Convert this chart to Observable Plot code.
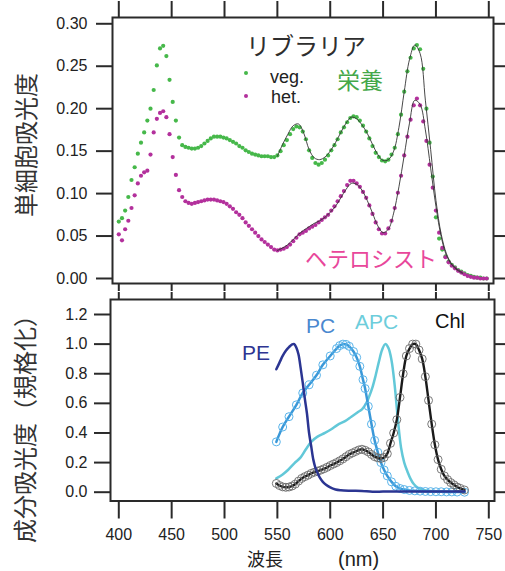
<!DOCTYPE html>
<html><head><meta charset="utf-8">
<script src="https://cdn.jsdelivr.net/npm/d3@7"></script>
<script src="https://cdn.jsdelivr.net/npm/@observablehq/plot@0.6"></script>
<style>
body{margin:0;background:#fff;}
#wrap{position:relative;width:505px;height:571px;overflow:hidden;font-family:"Liberation Sans",Arial,sans-serif;}
#top,#bot{position:absolute;left:0;}
#top{top:0}
#bot{top:291px}
#ann{position:absolute;left:0;top:0;pointer-events:none}
</style></head><body>
<div id="wrap"><div id="top"></div><div id="bot"></div><svg id="ann" width="505" height="571"></svg></div>
<script>
// ---------- data: top panel (single-cell absorbance) ----------
const topNm = [400,403,406,409,412,415,418,421,424,427,
430,433,436,439,442,445,448,451,454,457,
460,463,466,469,472,475,478,481,484,487,
490,493,496,499,502,505,508,511,514,517,
520,523,526,529,532,535,538,541,544,547,
550,553,556,559,562,565,568,571,574,577,
580,583,586,589,592,595,598,601,604,607,
610,613,616,619,622,625,628,631,634,637,
640,643,646,649,652,655,658,661,664,667,
670,673,676,679,682,685,688,691,694,697,
700,703,706,709,712,715,718,721,724,727,
730,733,736,739,742,745,748];
const vegVals = [.067,.071,.080,.096,.116,.131,.147,.160,.172,.186,
.200,.222,.251,.271,.274,.262,.234,.208,.186,.166,
.157,.155,.154,.153,.153,.154,.156,.159,.162,.165,
.167,.167,.167,.166,.165,.163,.161,.159,.156,.154,
.151,.149,.147,.146,.145,.144,.144,.144,.143,.143,
.145,.150,.157,.163,.170,.176,.179,.178,.173,.164,
.151,.142,.136,.134,.136,.140,.145,.151,.157,.164,
.172,.178,.184,.189,.191,.190,.186,.180,.173,.165,
.156,.148,.143,.139,.138,.140,.146,.154,.170,.193,
.220,.244,.260,.271,.275,.270,.247,.200,.160,.120,
.072,.047,.034,.026,.020,.016,.013,.010,.008,.006,
.004,.003,.002,.001,.001,.000,.000];
const hetVals = [.052,.045,.058,.068,.083,.098,.112,.121,.125,.127,
.146,.172,.188,.195,.197,.190,.170,.143,.122,.104,
.096,.091,.089,.088,.089,.090,.091,.092,.093,.093,
.093,.092,.091,.090,.088,.085,.082,.078,.075,.071,
.066,.062,.058,.054,.050,.046,.043,.040,.037,.034,
.033,.034,.035,.037,.040,.044,.048,.052,.054,.056,
.059,.061,.063,.066,.069,.072,.075,.080,.085,.091,
.097,.103,.110,.115,.115,.112,.108,.102,.095,.086,
.076,.066,.058,.053,.053,.059,.068,.083,.101,.121,
.145,.167,.187,.204,.212,.204,.185,.162,.134,.107,
.080,.054,.036,.025,.019,.015,.012,.009,.007,.005,
.003,.002,.001,.001,.000,.000,.000];
// library fits (thin lines)
const fitNm = [550,555,560,565,570,575,580,585,590,595,600,605,610,615,620,625,630,635,640,645,650,655,660,665,670,675,680,685,690,695,700,705,710,715,720,725];
const vegFitVals = [.144,.158,.170,.180,.182,.171,.152,.142,.140,.143,.150,.160,.172,.183,.190,.188,.181,.171,.158,.146,.139,.140,.150,.178,.220,.258,.275,.265,.210,.152,.092,.052,.029,.017,.011,.007];
const hetFitVals = [.033,.036,.040,.046,.052,.057,.061,.065,.068,.072,.078,.085,.095,.105,.112,.111,.104,.092,.077,.062,.054,.058,.077,.108,.145,.183,.210,.205,.175,.130,.085,.049,.027,.016,.010,.006];

// ---------- data: bottom panel (normalized component absorbance) ----------
const peNm  = [549,552,555,558,561,564,566,568,570,572,574,576,578,580,582,584,586,588,590,593,596,600,605,610,620,630,640,650,660,670,680,690,700,710,720,727];
const peVals= [.83,.875,.92,.955,.98,.998,1.0,.975,.93,.84,.74,.63,.53,.40,.31,.22,.165,.13,.10,.07,.05,.032,.018,.013,.010,.008,.003,.004,.004,.004,.004,.004,.004,.004,.004,.004];
const pcNm  = [549,555,561,568,574,580,587,593,600,606,609,612,615,618,622,625,628,631,633,636,639,642,645,648,651,654,658,662,666,670,675,680,685,690,695,700,705,710,715,720,727];
const pcVals= [.34,.44,.51,.59,.67,.725,.79,.86,.92,.97,.99,1.0,.998,.985,.95,.91,.85,.76,.70,.58,.46,.35,.27,.20,.15,.11,.07,.04,.025,.018,.012,.009,.007,.005,.004,.003,.003,.002,.002,.001,.0];
const apcNm = [549,555,560,566,572,577,582,588,595,601,607,614,620,626,630,634,637,640,643,646,649,652,655,658,661,664,667,670,673,676,679,683,687,692,700,710,720,727];
const apcVals=[.093,.12,.15,.195,.235,.29,.34,.375,.40,.425,.455,.48,.51,.54,.56,.60,.65,.71,.79,.88,.96,1.0,.975,.89,.72,.49,.30,.20,.14,.09,.055,.03,.018,.01,.006,.004,.003,.002];
const chlNm = [549,552,555,558,561,564,567,570,573,576,579,582,585,588,591,594,597,600,603,606,609,612,615,618,621,624,627,630,633,636,639,642,645,648,651,654,657,660,663,666,669,672,675,678,681,684,687,690,693,696,699,702,705,708,711,714,717,720,723,727];
const chlVals=[.059,.045,.036,.033,.035,.042,.055,.075,.093,.105,.115,.127,.135,.142,.149,.158,.168,.18,.19,.20,.212,.225,.24,.255,.265,.275,.285,.29,.283,.272,.255,.24,.232,.228,.235,.26,.33,.40,.49,.64,.80,.92,.97,1.0,1.0,.96,.90,.78,.62,.46,.32,.22,.155,.11,.085,.065,.05,.035,.026,.015];

// ---------- tick labels ----------
const xTicks = [400,450,500,550,600,650,700,750];
const topYTicks = [0,0.05,0.10,0.15,0.20,0.25,0.30];
const botYTicks = [0,0.2,0.4,0.6,0.8,1.0,1.2];

const GREEN = "#46b84a", MAGENTA = "#b3309c";
const zip = (xs, ys) => xs.map((x, i) => ({nm: x, v: ys[i]}));
const veg = zip(topNm, vegVals), het = zip(topNm, hetVals);
const vegFit = zip(fitNm, vegFitVals), hetFit = zip(fitNm, hetFitVals);
const pe = zip(peNm, peVals), pc = zip(pcNm, pcVals), apc = zip(apcNm, apcVals), chl = zip(chlNm, chlVals);

const FRAME = "#2a2a2a";
const baseStyle = {fontFamily: "'Liberation Sans', Arial, sans-serif", fontSize: "16px", color: "#222", background: "transparent", overflow: "visible"};
const blank = () => "";

const topPlot = Plot.plot({
  width: 505, height: 291,
  marginLeft: 112, marginRight: 12, marginTop: 17, marginBottom: 8,
  x: {domain: [394.04, 754.45]},
  y: {domain: [-0.0059, 0.3074]},
  style: baseStyle,
  marks: [
    Plot.dot(veg, {x: "nm", y: "v", r: 2.1, fill: GREEN}),
    Plot.dot(het, {x: "nm", y: "v", r: 2.1, fill: MAGENTA}),
    Plot.line(vegFit, {x: "nm", y: "v", stroke: "#333", strokeWidth: 0.9, curve: "catmull-rom"}),
    Plot.line(hetFit, {x: "nm", y: "v", stroke: "#333", strokeWidth: 0.9, curve: "catmull-rom"}),
    Plot.frame({stroke: FRAME, strokeWidth: 2}),
    Plot.axisY(topYTicks, {anchor: "left", tickSize: 16, tickPadding: 9, tickFormat: d3.format(".2f"), strokeWidth: 2, stroke: FRAME, label: null}),
    Plot.axisY(topYTicks, {anchor: "right", tickSize: 12, tickFormat: blank, strokeWidth: 2, stroke: FRAME, label: null}),
    Plot.axisX(xTicks, {anchor: "top", tickSize: 17, tickFormat: blank, strokeWidth: 2, stroke: FRAME, label: null}),
    Plot.axisX(xTicks, {anchor: "bottom", tickSize: 8, tickFormat: blank, strokeWidth: 2, stroke: FRAME, label: null})
  ]
});
document.getElementById("top").append(topPlot);

const botPlot = Plot.plot({
  width: 505, height: 280,
  marginLeft: 110, marginRight: 11, marginTop: 8, marginBottom: 70.5,
  x: {domain: [392.15, 755.39]},
  y: {domain: [-0.0594, 1.3013]},
  style: baseStyle,
  marks: [
    Plot.line(apc, {x: "nm", y: "v", stroke: "#62c8d8", strokeWidth: 2.5, curve: "catmull-rom"}),
    Plot.line(pc, {x: "nm", y: "v", stroke: "#3a98d8", strokeWidth: 2.5, curve: "catmull-rom"}),
    Plot.dot(pc, {x: "nm", y: "v", r: 4, stroke: "#5ab4ea", strokeWidth: 1, fill: "none"}),
    Plot.line(chl, {x: "nm", y: "v", stroke: "#1a1a1a", strokeWidth: 2.4, curve: "catmull-rom"}),
    Plot.dot(chl, {x: "nm", y: "v", r: 4, stroke: "#6a6a6a", strokeWidth: 0.9, fill: "none"}),
    Plot.line(pe, {x: "nm", y: "v", stroke: "#2b3592", strokeWidth: 2.5, curve: "catmull-rom"}),
    Plot.frame({stroke: FRAME, strokeWidth: 2}),
    Plot.axisY(botYTicks, {anchor: "left", tickSize: 16, tickPadding: 7, tickFormat: d3.format(".1f"), strokeWidth: 2, stroke: FRAME, label: null}),
    Plot.axisY(botYTicks, {anchor: "right", tickSize: 11, tickFormat: blank, strokeWidth: 2, stroke: FRAME, label: null}),
    Plot.axisX(xTicks, {anchor: "top", tickSize: 8, tickFormat: blank, strokeWidth: 2, stroke: FRAME, label: null}),
    Plot.axisX(xTicks, {anchor: "bottom", tickSize: 18, tickPadding: 10, tickFormat: d3.format("d"), strokeWidth: 2, stroke: FRAME, label: null})
  ]
});
document.getElementById("bot").append(botPlot);

// ---------- annotations ----------
const JP = "'Noto Sans CJK JP', 'Noto Sans CJK SC', sans-serif";
const LAT = "'Liberation Sans', Arial, sans-serif";
const ann = d3.select("#ann");
const labels = [
  {t: "リブラリア", x: 246, y: 55, s: 24, c: "#2e2e2e", f: JP},
  {t: "veg.", x: 270, y: 83, s: 18, c: "#222", f: LAT},
  {t: "het.", x: 271, y: 103, s: 18, c: "#222", f: LAT},
  {t: "栄養", x: 337, y: 89, s: 23, c: "#44a84a", f: JP},
  {t: "ヘテロシスト", x: 305, y: 267, s: 22, c: "#e8479b", f: JP},
  {t: "PE", x: 242, y: 360, s: 21, c: "#2e3592", f: LAT},
  {t: "PC", x: 306, y: 333, s: 21, c: "#4a88cf", f: LAT},
  {t: "APC", x: 355, y: 329, s: 21, c: "#6dcddb", f: LAT},
  {t: "Chl", x: 435, y: 328, s: 20, c: "#111", f: LAT},
  {t: "波長", x: 247, y: 565.5, s: 18, c: "#222", f: JP},
  {t: "(nm)", x: 338, y: 565.5, s: 20, c: "#222", f: LAT}
];
labels.forEach(d => ann.append("text").attr("x", d.x).attr("y", d.y)
  .attr("font-size", d.s).attr("font-family", d.f).attr("fill", d.c).text(d.t));
ann.append("circle").attr("cx", 246).attr("cy", 73).attr("r", 2).attr("fill", GREEN);
ann.append("circle").attr("cx", 246).attr("cy", 96).attr("r", 2).attr("fill", MAGENTA);
[{t: "単細胞吸光度", x: 24, y: 145}, {t: "成分吸光度（規格化）", x: 23, y: 423}].forEach(d =>
  ann.append("text").attr("transform", `translate(${d.x},${d.y}) rotate(-90)`)
    .attr("text-anchor", "middle").attr("dominant-baseline", "central")
    .attr("font-size", 24).attr("font-family", JP).attr("fill", "#333").text(d.t));
</script>
</body></html>
